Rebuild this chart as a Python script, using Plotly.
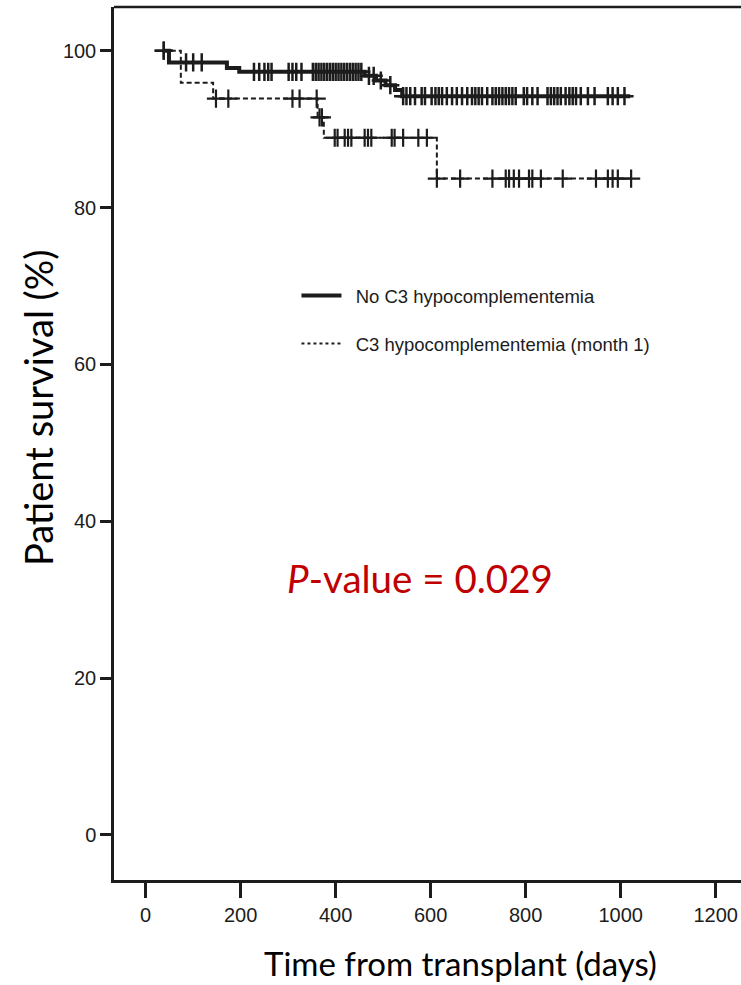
import numpy as np
import plotly.graph_objects as go

# ---------------- data ----------------
x_ticks = [0, 200, 400, 600, 800, 1000, 1200]
y_ticks = [0, 20, 40, 60, 80, 100]

series_names = ["No C3 hypocomplementemia", "C3 hypocomplementemia (month 1)"]

# step function: survival level (%) valid from each time (days)
solid_t = [36, 49, 171, 197, 461, 485, 505, 525, 540, 1020]
solid_s = [100, 98.5, 97.8, 97.3, 96.8, 96.2, 95.6, 95.0, 94.2, 94.2]

dash_t = [36, 74, 142, 362, 375, 613, 1024]
dash_s = [100, 95.9, 93.9, 91.5, 88.9, 83.7, 83.7]

# censored observations (days)
solid_cens = [38, 85, 100, 118, 228, 239, 250, 258, 265, 301, 309, 317, 328, 352, 358,
              364, 370, 376, 382, 388, 394, 400, 406, 412, 418, 424, 430, 436, 442, 448,
              454, 470, 480, 495, 515, 542, 549, 557, 567, 581, 588, 602, 610, 617, 624,
              634, 645, 655, 666, 677, 687, 694, 701, 708, 719, 730, 737, 744, 751, 758,
              765, 772, 779, 796, 803, 814, 825, 846, 853, 860, 867, 874, 884, 892, 899,
              906, 916, 931, 945, 973, 983, 994, 1008]
dash_cens = [38, 148, 174, 309, 324, 360, 366, 371, 398, 404, 419, 426, 433, 461, 468,
             475, 518, 524, 542, 574, 592, 613, 662, 730, 758, 765, 775, 786, 807, 814,
             832, 878, 948, 973, 983, 994, 1022]

p_text = "<i>P</i>-value = 0.029"
x_title = "Time from transplant (days)"
y_title = "Patient survival (%)"


def level_at(times, levels, c):
    idx = np.searchsorted(np.array(times), np.array(c), side="right") - 1
    idx = np.clip(idx, 0, len(levels) - 1)
    return [levels[i] for i in idx]


INK = "#1c1c1c"
NARROW = "Liberation Sans Narrow, Arial Narrow, Liberation Sans, Arial, sans-serif"
CAL = "Lato, Carlito, Calibri, sans-serif"

fig = go.Figure()

# curves
fig.add_trace(go.Scatter(x=solid_t, y=solid_s, mode="lines", line_shape="hv",
                         line=dict(color=INK, width=4), showlegend=False, hoverinfo="skip"))
fig.add_trace(go.Scatter(x=dash_t, y=dash_s, mode="lines", line_shape="hv",
                         line=dict(color=INK, width=2, dash="5px,3px"), showlegend=False,
                         hoverinfo="skip"))
# censor marks
fig.add_trace(go.Scatter(x=solid_cens, y=level_at(solid_t, solid_s, solid_cens), mode="markers",
                         marker=dict(symbol="cross-thin", size=13, line=dict(color=INK, width=2.5)),
                         showlegend=False))
fig.add_trace(go.Scatter(x=dash_cens, y=level_at(dash_t, dash_s, dash_cens), mode="markers",
                         marker=dict(symbol="cross-thin", size=13, line=dict(color=INK, width=2.2)),
                         showlegend=False))

# legend entries
fig.add_trace(go.Scatter(x=[None], y=[None], mode="lines", name="\u2002" + series_names[0],
                         line=dict(color=INK, width=4), legendgroup="a"))
fig.add_trace(go.Scatter(x=[None], y=[None], mode="lines", name="\u2002" + series_names[1],
                         line=dict(color=INK, width=2, dash="dot"), legendgroup="b"))

fig.update_layout(
    width=741, height=985,
    margin=dict(l=114, r=0, t=7, b=105),
    plot_bgcolor="white", paper_bgcolor="white",
    legend=dict(x=0.291, y=0.6415, xanchor="left", yanchor="middle",
                font=dict(family=NARROW, size=18.5, color=INK),
                bgcolor="rgba(0,0,0,0)", tracegroupgap=21, itemwidth=40),
    xaxis=dict(range=[-66.7, 1253.3], tickvals=x_ticks, showgrid=False, zeroline=False,
               showline=True, linecolor=INK, linewidth=2.5, ticks="outside", ticklen=15,
               tickwidth=2.5, tickcolor=INK,
               tickfont=dict(family=NARROW, size=20, color=INK)),
    yaxis=dict(range=[-5.74, 105.57], tickvals=y_ticks, showgrid=False, zeroline=False,
               showline=True, linecolor=INK, linewidth=2.5, ticks="outside", ticklen=11,
               tickwidth=2.5, tickcolor=INK,
               tickfont=dict(family=NARROW, size=20, color=INK)),
    shapes=[dict(type="line", xref="paper", yref="paper", x0=0, x1=1, y0=1, y1=1,
                 line=dict(color=INK, width=2.5))],
    annotations=[
        dict(text=x_title, xref="paper", yref="paper", x=0.552, y=-0.095,
             xanchor="center", yanchor="middle", showarrow=False,
             font=dict(family=CAL, size=33, color="black")),
        dict(text=y_title, xref="paper", yref="paper", x=-0.1212, y=0.5407,
             xanchor="center", yanchor="middle", showarrow=False, textangle=-90,
             font=dict(family=CAL, size=38, color="black")),
        dict(text=p_text, xref="paper", yref="paper", x=0.488, y=0.346,
             xanchor="center", yanchor="middle", showarrow=False,
             font=dict(family=CAL, size=38.5, color="#C00000")),
    ],
)

fig.write_html("out.html")
